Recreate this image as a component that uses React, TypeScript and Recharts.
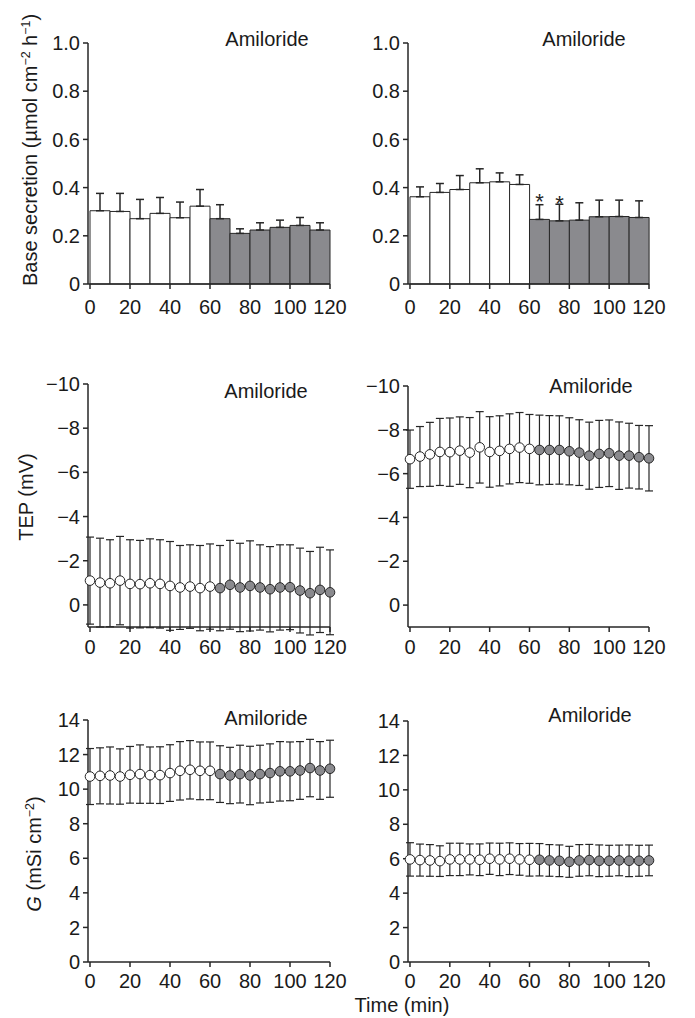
import React from 'react';
import { ComposedChart, Bar, Cell, Scatter, XAxis, YAxis, ErrorBar, LabelList } from 'recharts';

// 10-min collection bins (bar centres, min)
const binTimes = [5, 15, 25, 35, 45, 55, 65, 75, 85, 95, 105, 115];
const secretionLeft = [0.304, 0.301, 0.271, 0.293, 0.275, 0.323, 0.271, 0.21, 0.224, 0.235, 0.243, 0.224];
const secretionLeftErr = [0.072, 0.075, 0.08, 0.066, 0.065, 0.069, 0.058, 0.019, 0.03, 0.03, 0.033, 0.03];
const secretionRight = [0.362, 0.38, 0.392, 0.42, 0.424, 0.413, 0.268, 0.262, 0.265, 0.279, 0.28, 0.276];
const secretionRightErr = [0.041, 0.037, 0.058, 0.058, 0.037, 0.04, 0.061, 0.069, 0.072, 0.069, 0.068, 0.069];
const secretionRightSig = ['', '', '', '', '', '', '*', '*', '', '', '', ''];

// 5-min samples
const sampleTimes = [0, 5, 10, 15, 20, 25, 30, 35, 40, 45, 50, 55, 60, 65, 70, 75, 80, 85, 90, 95, 100, 105, 110, 115, 120];
const tepLeft = [-1.1, -1.01, -0.98, -1.1, -0.95, -0.94, -0.98, -0.95, -0.86, -0.79, -0.83, -0.76, -0.83, -0.76, -0.91, -0.79, -0.86, -0.79, -0.71, -0.79, -0.8, -0.65, -0.53, -0.68, -0.57];
const tepLeftErr = [1.97, 2.01, 1.97, 2.0, 2.0, 1.98, 2.01, 2.0, 2.01, 1.9, 1.89, 1.93, 1.93, 1.93, 2.01, 2.0, 2.04, 1.93, 1.93, 1.93, 1.92, 1.92, 1.89, 1.93, 1.92];
const tepRight = [-6.66, -6.78, -6.88, -6.99, -6.98, -7.05, -6.96, -7.2, -6.99, -7.04, -7.13, -7.19, -7.13, -7.08, -7.08, -7.08, -7.02, -6.96, -6.82, -6.9, -6.93, -6.82, -6.82, -6.75, -6.7];
const tepRightErr = [1.33, 1.37, 1.46, 1.53, 1.56, 1.54, 1.6, 1.63, 1.61, 1.6, 1.6, 1.6, 1.57, 1.59, 1.57, 1.56, 1.53, 1.5, 1.53, 1.53, 1.52, 1.54, 1.48, 1.45, 1.49];
const condLeft = [10.73, 10.77, 10.79, 10.73, 10.83, 10.87, 10.81, 10.81, 10.93, 11.06, 11.12, 11.06, 11.06, 10.87, 10.79, 10.87, 10.79, 10.87, 10.93, 11.03, 11.03, 11.08, 11.22, 11.08, 11.18];
const condLeftErr = [1.62, 1.62, 1.65, 1.6, 1.64, 1.69, 1.63, 1.64, 1.64, 1.69, 1.69, 1.67, 1.67, 1.64, 1.63, 1.67, 1.69, 1.67, 1.69, 1.72, 1.7, 1.67, 1.66, 1.67, 1.65];
const condRight = [5.96, 5.92, 5.9, 5.86, 5.96, 5.96, 5.96, 5.94, 6.0, 5.96, 6.0, 5.96, 5.94, 5.94, 5.9, 5.88, 5.82, 5.9, 5.92, 5.88, 5.88, 5.9, 5.88, 5.88, 5.9];
const condRightErr = [0.97, 0.93, 0.92, 0.89, 0.94, 0.94, 0.9, 0.92, 0.91, 0.94, 0.92, 0.92, 0.95, 0.94, 0.92, 0.92, 0.9, 0.92, 0.91, 0.92, 0.9, 0.89, 0.92, 0.9, 0.89];

const amilorideStart = 60;
const timeTicks = [0, 20, 40, 60, 80, 100, 120];
const secretionTicks = [0, 0.2, 0.4, 0.6, 0.8, 1.0];
const tepTicks = [-10, -8, -6, -4, -2, 0];
const condTicks = [0, 2, 4, 6, 8, 10, 12, 14];

const INK = '#262626';
const GREY = '#8a8a8e';
const FONT = '"Liberation Sans", Arial, sans-serif';
const Y_W = 60;
const X_H = 36;

type Box = { left: number; top: number; width: number; height: number; plotLeft: number; plotTop: number; plotRight: number; plotBottom: number; tickGap: number };

const marginOf = (b: Box) => ({
  top: b.plotTop - b.top,
  left: b.plotLeft - b.left - Y_W,
  right: b.left + b.width - b.plotRight,
  bottom: b.top + b.height - b.plotBottom - X_H,
});

const tickStyle = { fill: '#1a1a1a', fontSize: 20, fontFamily: FONT };

const fmtSecretion = (v: number) => (v === 0 ? '0' : v.toFixed(1));
const fmtSigned = (v: number) => (v < 0 ? `\u2212${Math.abs(v)}` : `${v}`);

const Asterisk = (props: any) => {
  const { x, y, width, value } = props;
  if (!value) return null;
  return (
    <text x={x + width / 2} y={y - 10} textAnchor="middle" fontSize={22} fontFamily={FONT} fill={INK}>
      {value}
    </text>
  );
};

const SecretionPanel = ({ box, values, errors, sig }: { box: Box; values: number[]; errors: number[]; sig?: string[] }) => {
  const data = binTimes.map((t, i) => ({ t, v: values[i], err: [0, errors[i]], sig: sig ? sig[i] : '' }));
  return (
    <div style={{ position: 'absolute', left: box.left, top: box.top }}>
      <ComposedChart width={box.width} height={box.height} data={data} margin={marginOf(box)} barCategoryGap={0}>
        <XAxis type="number" dataKey="t" domain={[-1, 120]} ticks={timeTicks} height={X_H}
          stroke={INK} strokeWidth={1.5} tickSize={5} tickMargin={box.tickGap} tick={tickStyle} />
        <YAxis type="number" domain={[0, 1]} ticks={secretionTicks} width={Y_W} tickFormatter={fmtSecretion}
          stroke={INK} strokeWidth={1.5} tickSize={5} tickMargin={3} tick={tickStyle} />
        <Bar dataKey="v" stroke={INK} strokeWidth={1} isAnimationActive={false}>
          {data.map((d) => (
            <Cell key={d.t} fill={d.t > amilorideStart ? GREY : '#ffffff'} />
          ))}
          <ErrorBar dataKey="err" direction="y" width={4} stroke={INK} strokeWidth={1.5} />
          <LabelList dataKey="sig" content={Asterisk} />
        </Bar>
      </ComposedChart>
    </div>
  );
};

const dotShape = (fill: string) => (p: any) => (
  <circle cx={p.cx} cy={p.cy} r={4.8} fill={fill} stroke={INK} strokeWidth={1} />
);

const TimeCoursePanel = ({ box, values, errors, domain, ticks, reversed, clip, fmt }: {
  box: Box; values: number[]; errors: number[]; domain: [number, number]; ticks: number[];
  reversed?: boolean; clip?: boolean; fmt?: (v: number) => string;
}) => {
  const rows = sampleTimes.map((t, i) => ({ t, v: values[i], err: errors[i] }));
  const before = rows.filter((r) => r.t <= amilorideStart);
  const after = rows.filter((r) => r.t > amilorideStart);
  return (
    <div style={{ position: 'absolute', left: box.left, top: box.top }}>
      <ComposedChart width={box.width} height={box.height} margin={marginOf(box)}>
        <XAxis type="number" dataKey="t" domain={[-1, 120]} ticks={timeTicks} height={X_H}
          stroke={INK} strokeWidth={1.5} tickSize={5} tickMargin={box.tickGap} tick={tickStyle} />
        <YAxis type="number" dataKey="v" domain={domain} ticks={ticks} width={Y_W} reversed={reversed}
          allowDataOverflow={clip} tickFormatter={fmt}
          stroke={INK} strokeWidth={1.5} tickSize={5} tickMargin={3} tick={tickStyle} />
        <Scatter data={before} shape={dotShape('#ffffff')} isAnimationActive={false}>
          <ErrorBar dataKey="err" direction="y" width={4} stroke={INK} strokeWidth={1.2} />
        </Scatter>
        <Scatter data={after} shape={dotShape(GREY)} isAnimationActive={false}>
          <ErrorBar dataKey="err" direction="y" width={4} stroke={INK} strokeWidth={1.2} />
        </Scatter>
      </ComposedChart>
    </div>
  );
};

const Amiloride = ({ x, baseline }: { x: number; baseline: number }) => (
  <div style={{ position: 'absolute', left: x - 60, top: baseline - 17, width: 120, textAlign: 'center', fontSize: 20, lineHeight: '20px', color: '#1a1a1a' }}>
    Amiloride
  </div>
);

const VLabel = ({ cx, cy, children }: { cx: number; cy: number; children: React.ReactNode }) => (
  <div style={{
    position: 'absolute', left: cx - 170, top: cy - 10, width: 340, height: 20, lineHeight: '20px',
    textAlign: 'center', fontSize: 20, color: '#1a1a1a', whiteSpace: 'nowrap',
    transform: 'rotate(-90deg)', transformOrigin: '50% 50%',
  }}>
    {children}
  </div>
);

const supStyle: React.CSSProperties = { fontSize: '0.62em', verticalAlign: '0.6em', lineHeight: 0 };

// left charts are wider than their column so the "120" tick label is not cut
const boxes = {
  secL: { left: 0, top: 0, width: 370, height: 340, plotLeft: 88, plotTop: 43, plotRight: 330, plotBottom: 284, tickGap: 11 },
  secR: { left: 345, top: 0, width: 350, height: 340, plotLeft: 408, plotTop: 43, plotRight: 649, plotBottom: 284, tickGap: 11 },
  tepL: { left: 0, top: 330, width: 370, height: 340, plotLeft: 88, plotTop: 384, plotRight: 330, plotBottom: 627, tickGap: 8 },
  tepR: { left: 345, top: 330, width: 350, height: 340, plotLeft: 408, plotTop: 386, plotRight: 649, plotBottom: 627, tickGap: 8 },
  gL: { left: 0, top: 660, width: 370, height: 358, plotLeft: 88, plotTop: 720, plotRight: 330, plotBottom: 962, tickGap: 7 },
  gR: { left: 345, top: 660, width: 350, height: 358, plotLeft: 408, plotTop: 721, plotRight: 649, plotBottom: 962, tickGap: 7 },
};

export default function App() {
  return (
    <div style={{ position: 'absolute', left: 0, top: 0, width: 695, height: 1018, background: '#fff', fontFamily: FONT, overflow: 'hidden' }}>
      <SecretionPanel box={boxes.secL} values={secretionLeft} errors={secretionLeftErr} />
      <SecretionPanel box={boxes.secR} values={secretionRight} errors={secretionRightErr} sig={secretionRightSig} />
      <TimeCoursePanel box={boxes.tepL} values={tepLeft} errors={tepLeftErr} domain={[-10, 1]} ticks={tepTicks} reversed clip fmt={fmtSigned} />
      <TimeCoursePanel box={boxes.tepR} values={tepRight} errors={tepRightErr} domain={[-10, 1]} ticks={tepTicks} reversed clip fmt={fmtSigned} />
      <TimeCoursePanel box={boxes.gL} values={condLeft} errors={condLeftErr} domain={[0, 14]} ticks={condTicks} />
      <TimeCoursePanel box={boxes.gR} values={condRight} errors={condRightErr} domain={[0, 14]} ticks={condTicks} />

      <Amiloride x={267} baseline={46} />
      <Amiloride x={584} baseline={46} />
      <Amiloride x={266} baseline={398} />
      <Amiloride x={591} baseline={393} />
      <Amiloride x={266} baseline={725} />
      <Amiloride x={590} baseline={722} />

      <VLabel cx={30} cy={150}>
        Base secretion (µmol cm<sup style={supStyle}>−2</sup> h<sup style={supStyle}>−1</sup>)
      </VLabel>
      <VLabel cx={26} cy={497}>TEP (mV)</VLabel>
      <VLabel cx={34} cy={854}>
        <i>G</i> (mSi cm<sup style={supStyle}>−2</sup>)
      </VLabel>

      <div style={{ position: 'absolute', left: 302, top: 995, width: 200, textAlign: 'center', fontSize: 20, lineHeight: '20px', color: '#1a1a1a' }}>
        Time (min)
      </div>
    </div>
  );
}
